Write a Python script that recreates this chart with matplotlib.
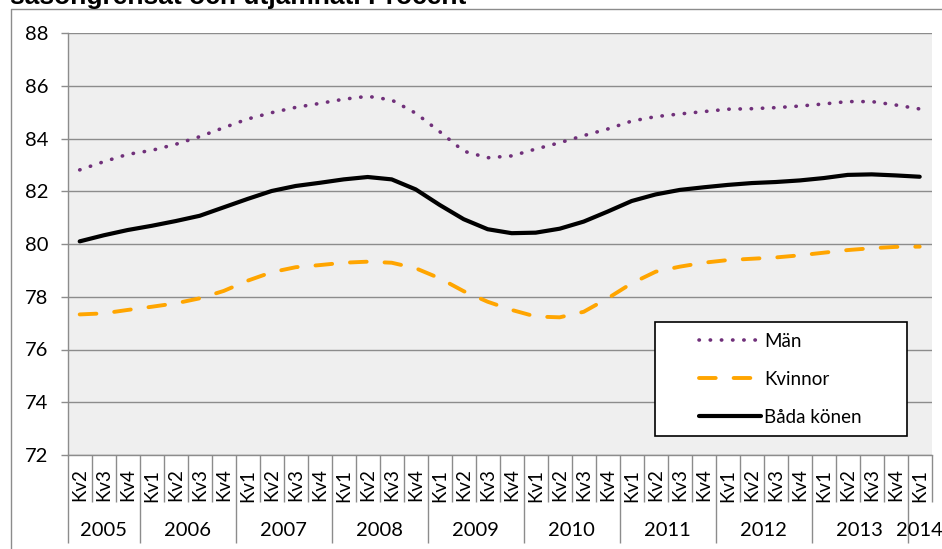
import numpy as np
import matplotlib
matplotlib.use("Agg")
import matplotlib.pyplot as plt
from matplotlib.ticker import FixedLocator, NullFormatter
from matplotlib.patches import Rectangle
from matplotlib.lines import Line2D

plt.rcParams['font.family'] = ['Lato', 'DejaVu Sans']

# data
years = ['2005', '2006', '2007', '2008', '2009', '2010', '2011', '2012', '2013', '2014']
quarters_per_year = [3, 4, 4, 4, 4, 4, 4, 4, 4, 1]
first_quarter = 2  # series starts in Kv2 2005

man = [82.81, 83.12, 83.40, 83.55, 83.78, 84.07, 84.41, 84.74, 84.98, 85.18, 85.33, 85.49,
       85.60, 85.46, 84.96, 84.26, 83.52, 83.27, 83.34, 83.60, 83.84, 84.11, 84.36, 84.66,
       84.83, 84.93, 85.02, 85.11, 85.13, 85.17, 85.23, 85.31, 85.40, 85.40, 85.27, 85.12]
kvinnor = [77.33, 77.37, 77.50, 77.62, 77.75, 77.94, 78.22, 78.61, 78.93, 79.12, 79.20, 79.29,
           79.33, 79.29, 79.08, 78.70, 78.21, 77.81, 77.50, 77.25, 77.22, 77.43, 77.94, 78.51,
           78.95, 79.14, 79.29, 79.39, 79.44, 79.49, 79.57, 79.67, 79.77, 79.84, 79.89, 79.90]
bada = [80.10, 80.33, 80.53, 80.69, 80.87, 81.07, 81.39, 81.71, 82.01, 82.20, 82.32, 82.45,
        82.54, 82.45, 82.07, 81.48, 80.94, 80.56, 80.41, 80.43, 80.58, 80.85, 81.23, 81.63,
        81.88, 82.05, 82.15, 82.24, 82.31, 82.35, 82.41, 82.50, 82.62, 82.64, 82.60, 82.55]

title = 'säsongrensat och utjämnat. Procent'

# quarter labels
qlabels = []
q = first_quarter
for n in quarters_per_year:
    for k in range(n):
        qlabels.append('Kv%d' % q)
        q = q % 4 + 1
x = np.arange(len(man))

W, H = 942, 549
fig = plt.figure(figsize=(W / 100, H / 100), dpi=100)
ax = fig.add_axes([67.7 / W, 1 - 455 / H, (931.7 - 67.7) / W, (455 - 33) / H])
ax.set_facecolor('#efefef')

ax.plot(x, man, color='#70307a', lw=2.6, linestyle=(0, (0.1, 3.0)),
        dash_capstyle='round', label='Män', zorder=3)
ax.plot(x, kvinnor, color='#ffa500', lw=2.8, linestyle=(0, (4.3, 4.6)),
        dash_capstyle='round', label='Kvinnor', zorder=3)
ax.plot(x, bada, color='black', lw=3.0, solid_capstyle='round',
        label='Båda könen', zorder=3)

ax.set_xlim(-0.5, len(x) - 0.5)
ax.set_ylim(72, 88)
ax.set_yticks(np.arange(72, 89, 2))
ax.yaxis.grid(True, color='#8c8c8c', lw=1)
ax.set_axisbelow(True)
ax.tick_params(axis='y', length=5, width=1, color='#8c8c8c', pad=9, labelsize=14.5)
for s in ['top', 'right']:
    ax.spines[s].set_visible(False)
for s in ['left', 'bottom']:
    ax.spines[s].set_color('#8c8c8c')
    ax.spines[s].set_linewidth(1)

# category axis: quarter separators (short) and year separators (long)
bounds = np.cumsum([0] + quarters_per_year) - 0.5
ax.xaxis.set_major_locator(FixedLocator(bounds[:-1]))
ax.xaxis.set_minor_locator(FixedLocator(np.arange(len(x) + 1) - 0.5))
ax.xaxis.set_major_formatter(NullFormatter())
ax.tick_params(axis='x', which='major', length=63, width=1, color='#8c8c8c')
ax.tick_params(axis='x', which='minor', length=34, width=1, color='#8c8c8c')

tr = ax.get_xaxis_transform()
for i, lab in enumerate(qlabels):
    ax.text(x[i], -30 / 422, lab, transform=tr, rotation=90, ha='center', va='center',
            fontsize=13.5)
for j, yr in enumerate(years):
    cx = (bounds[j] + bounds[j + 1]) / 2
    ax.text(cx, -75 / 422, yr, transform=tr, ha='center', va='center', fontsize=14.5)

# legend with a separate frame
fig.add_artist(Rectangle((655 / W, 1 - 436 / H), 252 / W, 114 / H, transform=fig.transFigure,
                         facecolor='white', edgecolor='black', lw=1.2, zorder=5))
leg = fig.legend(loc='upper left', bbox_to_anchor=(682 / W, 1 - 316 / H), frameon=False,
                 fontsize=13.5, handlelength=3.3, labelspacing=1.12, handletextpad=0.2)
leg.set_zorder(6)

# outer chart frame (cut at right and bottom)
fig.add_artist(Line2D([11 / W, 11 / W, 1.0], [0.0, 1 - 9 / H, 1 - 9 / H],
                      transform=fig.transFigure, color='#8c8c8c', lw=1))

# title, clipped by the top edge of the image
fig.text(10 / W, 1 - 4 / H, title, ha='left', va='baseline', fontsize=19,
         fontweight='bold', family=['Liberation Sans', 'DejaVu Sans'])

fig.savefig('out.png', dpi=100)
